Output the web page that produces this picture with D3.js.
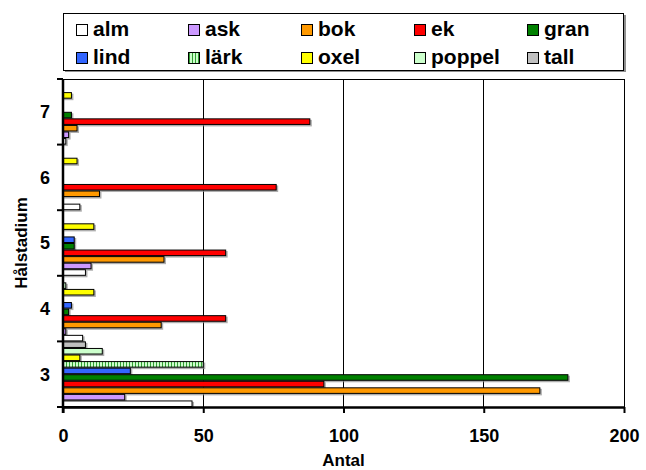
<!DOCTYPE html>
<html>
<head>
<meta charset="utf-8">
<script src="https://cdn.jsdelivr.net/npm/d3@7"></script>
<style>
  html, body { margin: 0; padding: 0; background: #fff; }
  svg { display: block; font-family: "Liberation Sans", Arial, sans-serif; font-weight: bold; }
</style>
</head>
<body>
<svg id="chart" width="646" height="470"></svg>
<script>
// Hålstadium categories, bottom to top
const categories = ["3", "4", "5", "6", "7"];
// Tree species (series), in drawing order within each group (bottom first)
const species = ["alm", "ask", "bok", "ek", "gran", "lind", "lärk", "oxel", "poppel", "tall"];
// Counts per species, one value per category
const alm    = [46, 7, 8, 6, 1];
const ask    = [22, 1, 10, 0, 2];
const bok    = [170, 35, 36, 13, 5];
const ek     = [93, 58, 58, 76, 88];
const gran   = [180, 2, 4, 0, 3];
const lind   = [24, 3, 4, 0, 0];
const lark   = [50, 0, 0, 0, 0];
const oxel   = [6, 11, 11, 5, 3];
const poppel = [14, 1, 0, 0, 0];
const tall   = [8, 0, 0, 0, 0];
const xTicks = [0, 50, 100, 150, 200];

const seriesValues = [alm, ask, bok, ek, gran, lind, lark, oxel, poppel, tall];
const colors = ["#ffffff", "#cc99ff", "#ff9900", "#ff0000", "#008000",
                "#3366ff", "url(#stripes)", "#ffff00", "#ccffcc", "#c0c0c0"];

const svg = d3.select("#chart");
const plot = { left: 63, right: 624, top: 79, bottom: 407 };

// vertical stripe pattern for lärk
const defs = svg.append("defs");
const pat = defs.append("pattern").attr("id", "stripes")
  .attr("patternUnits", "userSpaceOnUse").attr("width", 3).attr("height", 3);
pat.append("rect").attr("width", 3).attr("height", 3).attr("fill", "#ccffcc");
pat.append("rect").attr("width", 1).attr("height", 3).attr("fill", "#33a033");

const x = d3.scaleLinear().domain([0, 200]).range([plot.left, plot.right]);
const y = d3.scaleBand().domain(categories).range([plot.bottom, plot.top]).padding(0);
const yInner = d3.scaleBand().domain(species).range([y.bandwidth(), 0]).padding(0);

// gridlines
svg.append("g").selectAll("line").data(xTicks.slice(1)).join("line")
  .attr("x1", d => x(d)).attr("x2", d => x(d))
  .attr("y1", plot.top).attr("y2", plot.bottom)
  .attr("stroke", "#000").attr("stroke-width", 1).attr("shape-rendering", "crispEdges");
svg.append("line").attr("x1", plot.left).attr("x2", plot.right)
  .attr("y1", plot.top).attr("y2", plot.top)
  .attr("stroke", "#000").attr("stroke-width", 1).attr("shape-rendering", "crispEdges");

// bars
const rows = [];
species.forEach((s, si) => {
  categories.forEach((c, ci) => {
    const v = seriesValues[si][ci];
    if (v > 0) rows.push({ s, si, c, v });
  });
});

const barG = svg.append("g");
// drop shadows
barG.selectAll("rect.shadow").data(rows).join("rect").attr("class", "shadow")
  .attr("x", x(0) + 1)
  .attr("y", d => y(d.c) + yInner(d.s) + 1.5)
  .attr("width", d => x(d.v) - x(0) + 1)
  .attr("height", yInner.bandwidth())
  .attr("fill", "#8c8c8c").attr("opacity", 0.7);
barG.selectAll("rect.bar").data(rows).join("rect").attr("class", "bar")
  .attr("x", x(0))
  .attr("y", d => y(d.c) + yInner(d.s) + 0.5)
  .attr("width", d => x(d.v) - x(0))
  .attr("height", yInner.bandwidth() - 1)
  .attr("fill", d => colors[d.si])
  .attr("stroke", "#000").attr("stroke-width", 1);

// x axis
const xAxis = svg.append("g").attr("transform", `translate(0,${plot.bottom})`)
  .call(d3.axisBottom(x).tickValues(xTicks).tickSize(6).tickPadding(16).tickSizeOuter(0));
xAxis.select(".domain").attr("stroke-width", 2.5);
xAxis.selectAll(".tick line").attr("stroke-width", 2);
xAxis.selectAll("text").attr("font-size", 18).attr("font-weight", "bold")
  .attr("font-family", "Liberation Sans, Arial, sans-serif").attr("fill", "#000");

// y axis: labels centered in bands, ticks on band boundaries
const yAxis = svg.append("g");
yAxis.append("line").attr("x1", plot.left).attr("x2", plot.left)
  .attr("y1", plot.top).attr("y2", plot.bottom + 6)
  .attr("stroke", "#000").attr("stroke-width", 2.5);
const bounds = categories.map(c => y(c)).concat([plot.bottom]);
yAxis.selectAll("line.tk").data(bounds).join("line").attr("class", "tk")
  .attr("x1", plot.left - 6).attr("x2", plot.left)
  .attr("y1", d => d).attr("y2", d => d)
  .attr("stroke", "#000").attr("stroke-width", 2);
yAxis.selectAll("text").data(categories).join("text")
  .attr("x", 50).attr("y", d => y(d) + y.bandwidth() / 2)
  .attr("dy", "0.35em").attr("text-anchor", "end")
  .attr("font-size", 18).text(d => d);

// axis titles
svg.append("text").attr("x", (plot.left + plot.right) / 2).attr("y", 466)
  .attr("text-anchor", "middle").attr("font-size", 17).text("Antal");
svg.append("text").attr("transform", `translate(27,${(plot.top + plot.bottom) / 2}) rotate(-90)`)
  .attr("text-anchor", "middle").attr("font-size", 17).text("Hålstadium");

// legend
const lg = svg.append("g");
lg.append("rect").attr("x", 65).attr("y", 15).attr("width", 561).attr("height", 57).attr("fill", "#909090");
lg.append("rect").attr("x", 63.5).attr("y", 13.5).attr("width", 560).attr("height", 57)
  .attr("fill", "#fff").attr("stroke", "#000").attr("stroke-width", 1);
const colX = [76, 188, 301, 414, 527];
const rowBase = [36, 64];
species.forEach((s, i) => {
  const cx = colX[i % 5], by = rowBase[Math.floor(i / 5)];
  lg.append("rect").attr("x", cx + 0.5).attr("y", by - 11.5).attr("width", 11).attr("height", 11)
    .attr("fill", colors[i]).attr("stroke", "#000").attr("stroke-width", 1);
  lg.append("text").attr("x", cx + 17).attr("y", by)
    .attr("font-size", 21).text(s);
});
</script>
</body>
</html>
